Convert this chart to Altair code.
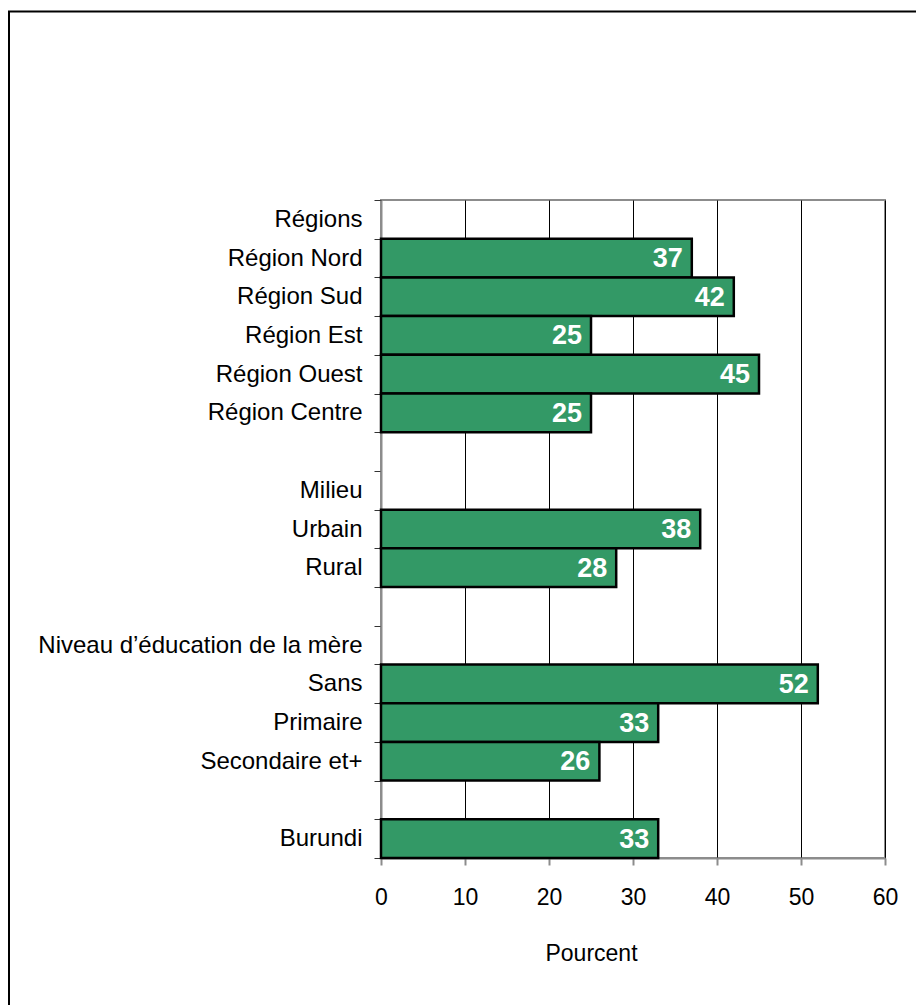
import altair as alt
import pandas as pd

categories = ["Régions", "Région Nord", "Région Sud", "Région Est", "Région Ouest",
              "Région Centre", " ", "Milieu", "Urbain", "Rural", "  ",
              "Niveau d’éducation de la mère", "Sans", "Primaire", "Secondaire et+",
              "   ", "Burundi"]
values = [None, 37, 42, 25, 45, 25, None, None, 38, 28, None, None, 52, 33, 26, None, 33]
x_ticks = [0, 10, 20, 30, 40, 50, 60]

df = pd.DataFrame({"cat": categories, "val": values})

FONT = "Liberation Sans"

y_scale = alt.Scale(domain=categories, paddingInner=0, paddingOuter=0)

y_enc = alt.Y("cat:N", sort=categories, title=None, scale=y_scale,
              axis=alt.Axis(labelFont=FONT, labelFontSize=24, labelColor="black",
                            labelPadding=12, tickSize=7, tickColor="#333333",
                            tickBand="extent", domainColor="#8c8c8c", domainWidth=2,
                            grid=False, labelLimit=400))
x_enc = alt.X("val:Q", title="Pourcent",
              scale=alt.Scale(domain=[0, 60], nice=False),
              axis=alt.Axis(values=x_ticks, labelFont=FONT, labelFontSize=23,
                            labelColor="black", tickSize=7, tickColor="#8c8c8c",
                            tickWidth=2, domainColor="#8c8c8c", domainWidth=2,
                            grid=True, gridColor="black", gridWidth=1,
                            labelFlush=False, labelOverlap=False,
                            labelPadding=21, titleFont=FONT, titleFontSize=23,
                            titleFontWeight="normal", titleColor="black",
                            titlePadding=33, titleX=210, titleAlign="center"))

bars = alt.Chart(df).transform_filter("datum.val != null").mark_bar(
    color="#339966", stroke="black", strokeWidth=2.5
).encode(x=x_enc, y=y_enc)

labels = alt.Chart(df).transform_filter("datum.val != null").mark_text(
    align="right", baseline="middle", dx=-9, dy=1, color="white",
    font=FONT, fontSize=27, fontWeight="bold"
).encode(x="val:Q", y=alt.Y("cat:N", sort=categories, scale=y_scale), text="val:Q")

frame_df = pd.DataFrame({"a": [0]})
top_line = alt.Chart(frame_df).mark_rule(color="black", strokeWidth=2).encode(
    x=alt.value(-373), x2=alt.value(540), y=alt.value(-188.5))
left_line = alt.Chart(frame_df).mark_rule(color="black", strokeWidth=2).encode(
    x=alt.value(-372), y=alt.value(-189), y2=alt.value(810))

chart = alt.layer(bars, labels, top_line, left_line).properties(
    width=504, height=658,
    autosize=alt.AutoSizeParams(type="none"),
    padding={"left": 381, "top": 200, "right": 31, "bottom": 147},
    background="white",
).configure_view(stroke="#8c8c8c", strokeWidth=2)

chart.save("out.html", embed_options={"renderer": "svg", "actions": False})
